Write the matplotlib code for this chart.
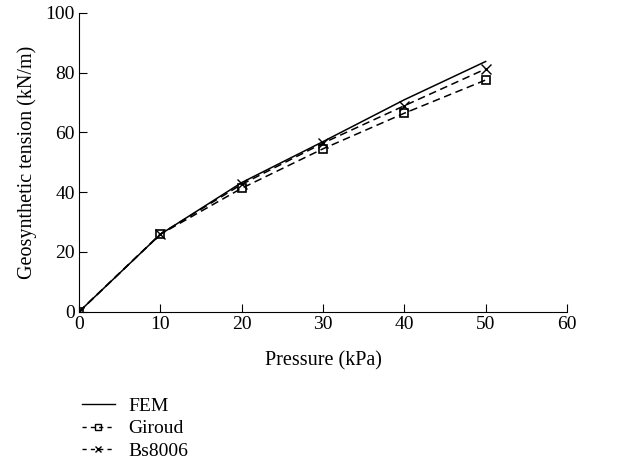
import matplotlib.pyplot as plt
from matplotlib.lines import Line2D

plt.rcParams['font.family'] = ['Liberation Serif', 'DejaVu Serif']

pressure = [0, 10, 20, 30, 40, 50]
fem = [0, 25.9, 43.2, 56.9, 70.9, 83.7]
giroud = [0, 25.9, 41.3, 54.5, 66.4, 77.5]
bs8006 = [0, 26.0, 42.6, 56.4, 68.9, 81.2]

fig = plt.figure(figsize=(6.23, 4.73), dpi=100)
ax = fig.add_axes([0.127, 0.341, 0.783, 0.632])

ax.plot(pressure, fem, c='black', lw=1.1, label='FEM')
ax.plot(pressure, giroud, c='black', lw=1.1, ls=(0, (5, 3)), marker='s',
        mfc='none', ms=6, mew=1.2, label='Giroud')
ax.plot(pressure, bs8006, c='black', lw=1.1, ls=(0, (5, 3)), marker='x',
        ms=7, mew=1.0, label='Bs8006')

ax.set_xlim(0, 60)
ax.set_ylim(0, 100)
ax.set_xticks(range(0, 61, 10))
ax.set_yticks(range(0, 101, 20))
ax.spines['top'].set_visible(False)
ax.spines['right'].set_visible(False)
ax.tick_params(direction='in', length=6, labelsize=14, pad=3)
ax.set_xlabel('Pressure (kPa)', fontsize=14.5, labelpad=13)
ax.set_ylabel('Geosynthetic tension (kN/m)', fontsize=14.5, labelpad=6)

handles = [
    Line2D([], [], c='black', lw=1.0),
    Line2D([], [], c='black', lw=1.0, ls=(0, (3, 3)), marker='s', mfc='none', ms=4),
    Line2D([], [], c='black', lw=1.0, ls=(0, (3, 3)), marker='x', ms=4),
]
fig.legend(handles, ['FEM', 'Giroud', 'Bs8006'], loc='upper left',
           bbox_to_anchor=(0.131, 0.16), frameon=False, fontsize=14,
           borderpad=0, borderaxespad=0,
           handlelength=1.7, handletextpad=0.7, labelspacing=0.25)

fig.savefig('out.png', dpi=100)
